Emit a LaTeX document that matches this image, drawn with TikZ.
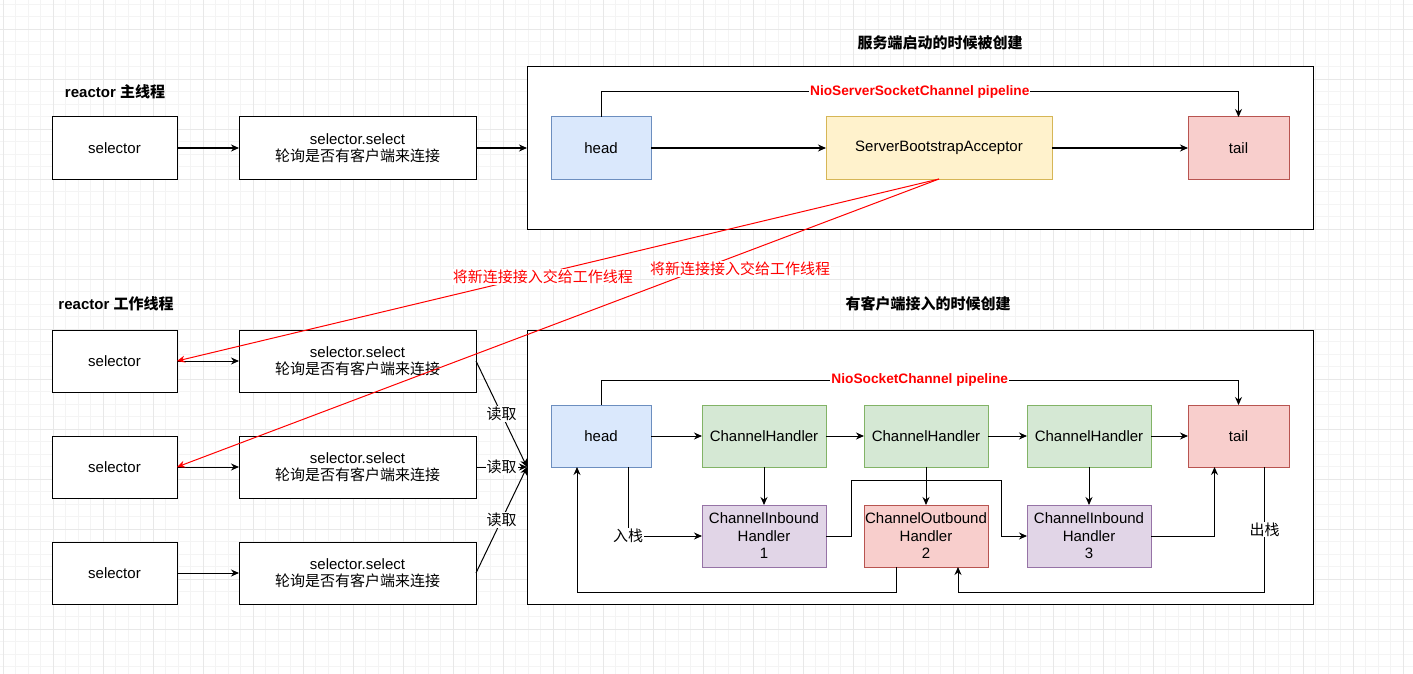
\documentclass[tikz,border=0pt]{standalone}
\usepackage{fontspec}
\setmainfont{Liberation Sans}
\newfontfamily\cjk{Noto Sans CJK SC}
\newcommand{\zh}[1]{{\cjk #1}}
\usetikzlibrary{arrows.meta}

\definecolor{headfill}{HTML}{DAE8FC}
\definecolor{headline}{HTML}{6C8EBF}
\definecolor{accfill}{HTML}{FFF2CC}
\definecolor{accline}{HTML}{D6B656}
\definecolor{tailfill}{HTML}{F8CECC}
\definecolor{tailline}{HTML}{B85450}
\definecolor{chfill}{HTML}{D5E8D4}
\definecolor{chline}{HTML}{82B366}
\definecolor{infill}{HTML}{E1D5E7}
\definecolor{inline}{HTML}{9673A6}
\definecolor{purered}{HTML}{FF0000}

\begin{document}
\begin{tikzpicture}[x=1pt,y=-1pt,
  txt/.style={font=\fontsize{15}{17.5}\selectfont,align=center},
  title/.style={txt,font=\fontsize{15}{17.5}\selectfont\bfseries},
  plainbox/.style={txt,draw=black,fill=white,line width=1pt,inner sep=0pt,outer sep=0pt,minimum height=62pt},
  selbox/.style={plainbox,minimum width=125pt},
  loopbox/.style={plainbox,minimum width=237pt},
  frame/.style={plainbox,minimum width=786pt},
  headbox/.style={plainbox,fill=headfill,draw=headline,minimum width=100pt},
  accbox/.style={plainbox,fill=accfill,draw=accline,minimum width=226pt},
  tailbox/.style={plainbox,fill=tailfill,draw=tailline,minimum width=101pt},
  chbox/.style={plainbox,fill=chfill,draw=chline,minimum width=124pt},
  inbox/.style={plainbox,fill=infill,draw=inline,minimum width=124pt},
  outbox/.style={plainbox,fill=tailfill,draw=tailline,minimum width=124pt},
  flow/.style={-{Stealth[length=8pt,width=7pt]},line width=1pt,black},
  handoff/.style={-{Stealth[length=8pt,width=7pt]},line width=1pt,purered},
  lbl/.style={txt,fill=white,inner sep=1pt},
  redlbl/.style={lbl,text=purered},
  pipe/.style={lbl,text=purered,font=\fontsize{13.7}{16}\selectfont\bfseries},
  minorgrid/.style={line width=0.8pt,gray!9},
  majorgrid/.style={line width=0.8pt,gray!18}
]
  \fill[white] (0,0) rectangle (1413,674);
  \useasboundingbox (0,0) rectangle (1413,674);
  % canvas grid
  \foreach \i in {0,...,113}{\draw[minorgrid] ({3.3+12.5*\i},0) -- ++(0,674);}
  \foreach \i in {0,...,54}{\draw[minorgrid] (0,{4.3+12.5*\i}) -- ++(1413,0);}
  \foreach \i in {0,...,28}{\draw[majorgrid] ({3.3+50*\i},0) -- ++(0,674);}
  \foreach \i in {0,...,13}{\draw[majorgrid] (0,{29.3+50*\i}) -- ++(1413,0);}

  % boss thread
  \node[title] (bosstitle) at (115,92) {reactor \zh{主线程}};
  \node[title] (srvtitle) at (940,43) {\zh{服务端启动的时候被创建}};
  \node[selbox] (sel0) at (114.5,148) {selector};
  \node[loopbox] (loop0) at (357.5,148) {selector.select\\\zh{轮询是否有客户端来连接}};
  \node[frame,minimum height=162pt] (srvframe) at (920,148) {};
  \node[headbox] (srvhead) at (601,148) {head};
  \node[accbox] (acc) at (939,148) {ServerBootstrapAcceptor};
  \node[tailbox] (srvtail) at (1238.5,148) {tail};
  \draw[flow] (sel0) -- (loop0);
  \draw[flow] (loop0) -- (srvframe.west);
  \draw[flow] (srvhead) -- (acc);
  \draw[flow] (acc) -- (srvtail);
  \draw[flow] (srvhead.north) -- ++(0,-25) -| node[pipe,pos=0.25] {NioServerSocketChannel pipeline} (srvtail.north);

  % worker threads
  \node[title] (worktitle) at (116,304) {reactor \zh{工作线程}};
  \node[title] (clititle) at (928,304) {\zh{有客户端接入的时候创建}};
  \foreach \n/\y in {1/361,2/467,3/573}{
    \node[selbox] (sel\n) at (114.5,\y) {selector};
    \node[loopbox] (loop\n) at (357.5,\y) {selector.select\\\zh{轮询是否有客户端来连接}};
    \draw[flow] (sel\n) -- (loop\n);
  }
  \node[frame,minimum height=274pt] (cliframe) at (920,467) {};
  \foreach \n in {1,2,3}{
    \draw[flow] (loop\n.east) -- node[lbl] {\zh{读取}} (cliframe.west);
  }

  % handoff of new connections
  \draw[handoff] (acc.south) -- node[redlbl,pos=0.52,yshift=-3pt] {\zh{将新连接接入交给工作线程}} (sel1.east);
  \draw[handoff] (acc.south) -- node[redlbl,pos=0.261,yshift=-15pt] {\zh{将新连接接入交给工作线程}} (sel2.east);

  % client pipeline
  \node[headbox] (head) at (601,436) {head};
  \node[chbox] (ch1) at (764,436) {ChannelHandler};
  \node[chbox] (ch2) at (926,436) {ChannelHandler};
  \node[chbox] (ch3) at (1089,436) {ChannelHandler};
  \node[tailbox] (tail) at (1238.5,436) {tail};
  \node[inbox] (in1) at (764,536) {ChannelInbound\\Handler\\1};
  \node[outbox] (out2) at (926,536) {ChannelOutbound\\Handler\\2};
  \node[inbox] (in3) at (1089,536) {ChannelInbound\\Handler\\3};
  \draw[flow] (head) -- (ch1);
  \draw[flow] (ch1) -- (ch2);
  \draw[flow] (ch2) -- (ch3);
  \draw[flow] (ch3) -- (tail);
  \draw[flow] (ch1) -- (in1);
  \draw[flow] (ch2) -- (out2);
  \draw[flow] (ch3) -- (in3);
  \draw[flow] (head.north) -- ++(0,-25) -| node[pipe,pos=0.25] {NioSocketChannel pipeline} (tail.north);
  \draw[flow] ([xshift=27]head.south) |- node[lbl,pos=0.5] {\zh{入栈}} (in1.west);
  \draw[flow] (in1.east) -| ++(25,-56) -| ([xshift=-26]in3.west) -- (in3.west);
  \draw[flow] (in3.east) -| ([xshift=-24]tail.south);
  \draw[flow] ([xshift=26]tail.south) -- node[lbl] {\zh{出栈}} ++(0,125) -| ([xshift=32]out2.south);
  \draw[flow] ([xshift=-30]out2.south) -- ++(0,25) -| ([xshift=-24]head.south);
\end{tikzpicture}
\end{document}
